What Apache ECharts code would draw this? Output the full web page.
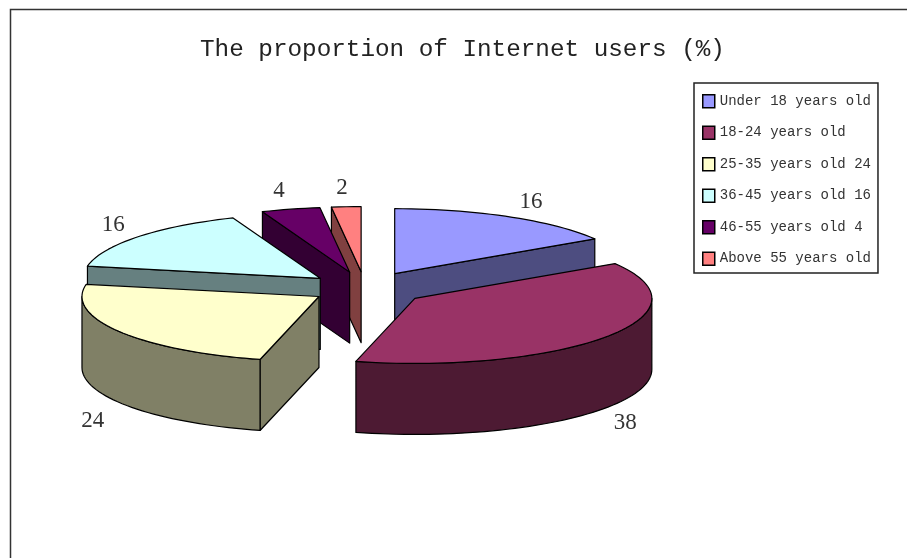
<!DOCTYPE html>
<html><head><meta charset="utf-8">
<style>html,body{margin:0;padding:0;background:#fff}#c{width:907px;height:558px}</style>
<script src="https://cdn.jsdelivr.net/npm/echarts@6/dist/echarts.min.js"></script>
</head><body><div id="c"></div>
<script>
const categories = ['Under 18 years old','18-24 years old','25-35 years old 24','36-45 years old 16','46-55 years old 4','Above 55 years old'];
const values = [16,38,24,16,4,2];
const topColors = ['#9999FF','#993366','#FFFFCC','#CCFFFF','#660066','#FF8080'];
const sideColors = ['#4D4D80','#4D1A33','#808066','#668080','#330033','#804040'];
const drawOrder = [0,5,4,3,1,2];
const explode = [0.26,0.26,0.23,0.245,0.26,0.26];
const labelNudge = [[5,4],[-10,3],[4,7],[3,2],[-3,3],[-2,3]];

const CX=365, CY=288.5, RX=237, RY=65, DEPTH=71;
const total = values.reduce((a,b)=>a+b,0);
const rad = d => d*Math.PI/180;
const starts = []; let acc = 0;
values.forEach(v => { starts.push(acc/total*360); acc += v; });

function renderSlice(i){
  const a0 = starts[i], a1 = a0 + values[i]/total*360, mid = (a0+a1)/2;
  const ax = CX + explode[i]*RX*Math.sin(rad(mid));
  const ay = CY - explode[i]*RY*Math.cos(rad(mid));
  const pt = (a,dz=0) => [ax+RX*Math.sin(rad(a)), ay-RY*Math.cos(rad(a))+dz];
  const arc = (from,to,dz=0) => {
    const pts=[], n=Math.max(2,Math.ceil((to-from)/2));
    for(let k=0;k<=n;k++) pts.push(pt(from+(to-from)*k/n,dz));
    return pts;
  };
  const poly = (points,fill) => ({type:'polygon',shape:{points},style:{fill,stroke:'#000',lineWidth:1.2,lineJoin:'round'}});
  const kids = [];
  const wall = a => poly([[ax,ay],pt(a),pt(a,DEPTH),[ax,ay+DEPTH]],sideColors[i]);
  if(Math.sin(rad(a0))<-1e-6) kids.push(wall(a0));
  if(Math.sin(rad(a1))>1e-6) kids.push(wall(a1));
  const w0=Math.max(a0,90), w1=Math.min(a1,270);
  if(w1>w0) kids.push(poly(arc(w0,w1).concat(arc(w0,w1,DEPTH).reverse()),sideColors[i]));
  kids.push(poly([[ax,ay]].concat(arc(a0,a1)),topColors[i]));
  const south = Math.cos(rad(mid))<0;
  kids.push({type:'text',style:{
    text:String(values[i]),
    x:ax+1.15*RX*Math.sin(rad(mid))+labelNudge[i][0],
    y:ay-1.33*RY*Math.cos(rad(mid))+(south?DEPTH:0)+labelNudge[i][1],
    fill:'#333',font:'23px "Liberation Serif"',align:'center',verticalAlign:'middle'}});
  return {type:'group',children:kids};
}

const chart = echarts.init(document.getElementById('c'),null,{renderer:'canvas'});
chart.setOption({
  animation:false,
  backgroundColor:'#fff',
  title:{text:'The proportion of Internet users (%)',left:200,top:38,padding:0,
    textStyle:{fontFamily:'Liberation Mono',fontSize:24.3,fontWeight:'normal',color:'#222'}},
  legend:{data:categories.map(name=>({name,icon:'rect'})),orient:'vertical',left:694,top:83,
    padding:[11,7,7,8],itemWidth:12,itemHeight:13,itemGap:17,selectedMode:false,
    backgroundColor:'#fff',borderColor:'#222',borderWidth:1.5,borderRadius:0,
    itemStyle:{borderColor:'#000',borderWidth:1.5},
    textStyle:{fontFamily:'Liberation Mono',fontSize:14,color:'#333',padding:[0,0,0,0]}},
  graphic:[{type:'polyline',shape:{points:[[10.5,558],[10.5,9.5],[907,9.5]]},style:{stroke:'#333',lineWidth:1.5,fill:null},silent:true}],
  series:drawOrder.map(i=>({
    type:'custom',coordinateSystem:'none',name:categories[i],silent:true,
    itemStyle:{color:topColors[i]},
    data:[values[i]],
    renderItem:()=>renderSlice(i)
  }))
});
</script></body></html>
